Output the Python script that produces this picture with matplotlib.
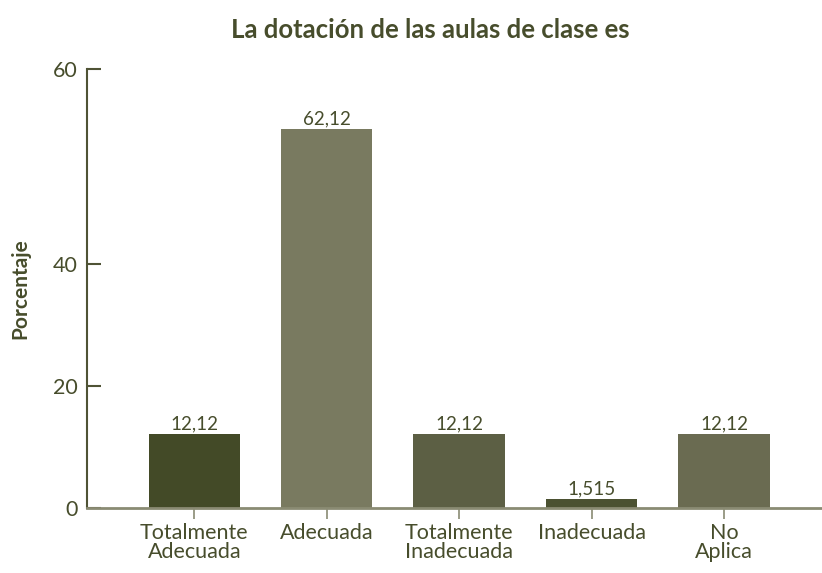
import numpy as np
import matplotlib
matplotlib.use('Agg')
import matplotlib.pyplot as plt

plt.rcParams['font.family'] = ['Lato', 'DejaVu Sans']

categories = ['Totalmente\nAdecuada', 'Adecuada', 'Totalmente\nInadecuada', 'Inadecuada', 'No\nAplica']
values = [12.12, 62.12, 12.12, 1.515, 12.12]
value_labels = ['12,12', '62,12', '12,12', '1,515', '12,12']
bar_colors = ['#434a27', '#797a60', '#5c5f44', '#4b5131', '#6a6b51']
ytick_values = [0, 20, 40, 72]
ytick_labels = ['0', '20', '40', '60']

text_color = '#474d2c'

fig = plt.figure(figsize=(8.22, 5.73), dpi=100)
ax = fig.add_axes([87 / 822, 1 - 508 / 573, 1 - 87 / 822, (508 - 69) / 573])

x = np.arange(len(categories))
bars = ax.bar(x, values, width=0.69, color=bar_colors, zorder=2)

for rect, lab in zip(bars, value_labels):
    ax.text(rect.get_x() + rect.get_width() / 2, rect.get_height() + 0.3, lab,
            ha='center', va='bottom', fontsize=13.5, color=text_color)

ax.set_xlim(-0.81, 4.74)
ax.set_ylim(0, 72)
ax.set_xticks(x)
ax.set_xticklabels(categories, fontsize=15.5, color=text_color, linespacing=0.9)
ax.set_yticks(ytick_values)
ax.set_yticklabels(ytick_labels, fontsize=15.5, color=text_color)

ax.spines['top'].set_visible(False)
ax.spines['right'].set_visible(False)
ax.spines['left'].set_color('#4f5335')
ax.spines['left'].set_linewidth(1.5)
ax.spines['bottom'].set_color('#8a8b73')
ax.spines['bottom'].set_linewidth(2)

ax.tick_params(axis='y', direction='in', length=10, width=1.5, color='#4f5335', pad=7)
ax.tick_params(axis='x', direction='out', length=8, width=1.2, color='#8a8b73', pad=3)

ax.set_ylabel('Porcentaje', fontsize=15, fontweight='bold', color=text_color, labelpad=16)
fig.text(0.523, 0.947, 'La dotación de las aulas de clase es', ha='center', va='center',
         fontsize=18.5, fontweight='bold', color=text_color)

fig.savefig('out.png', dpi=100)
